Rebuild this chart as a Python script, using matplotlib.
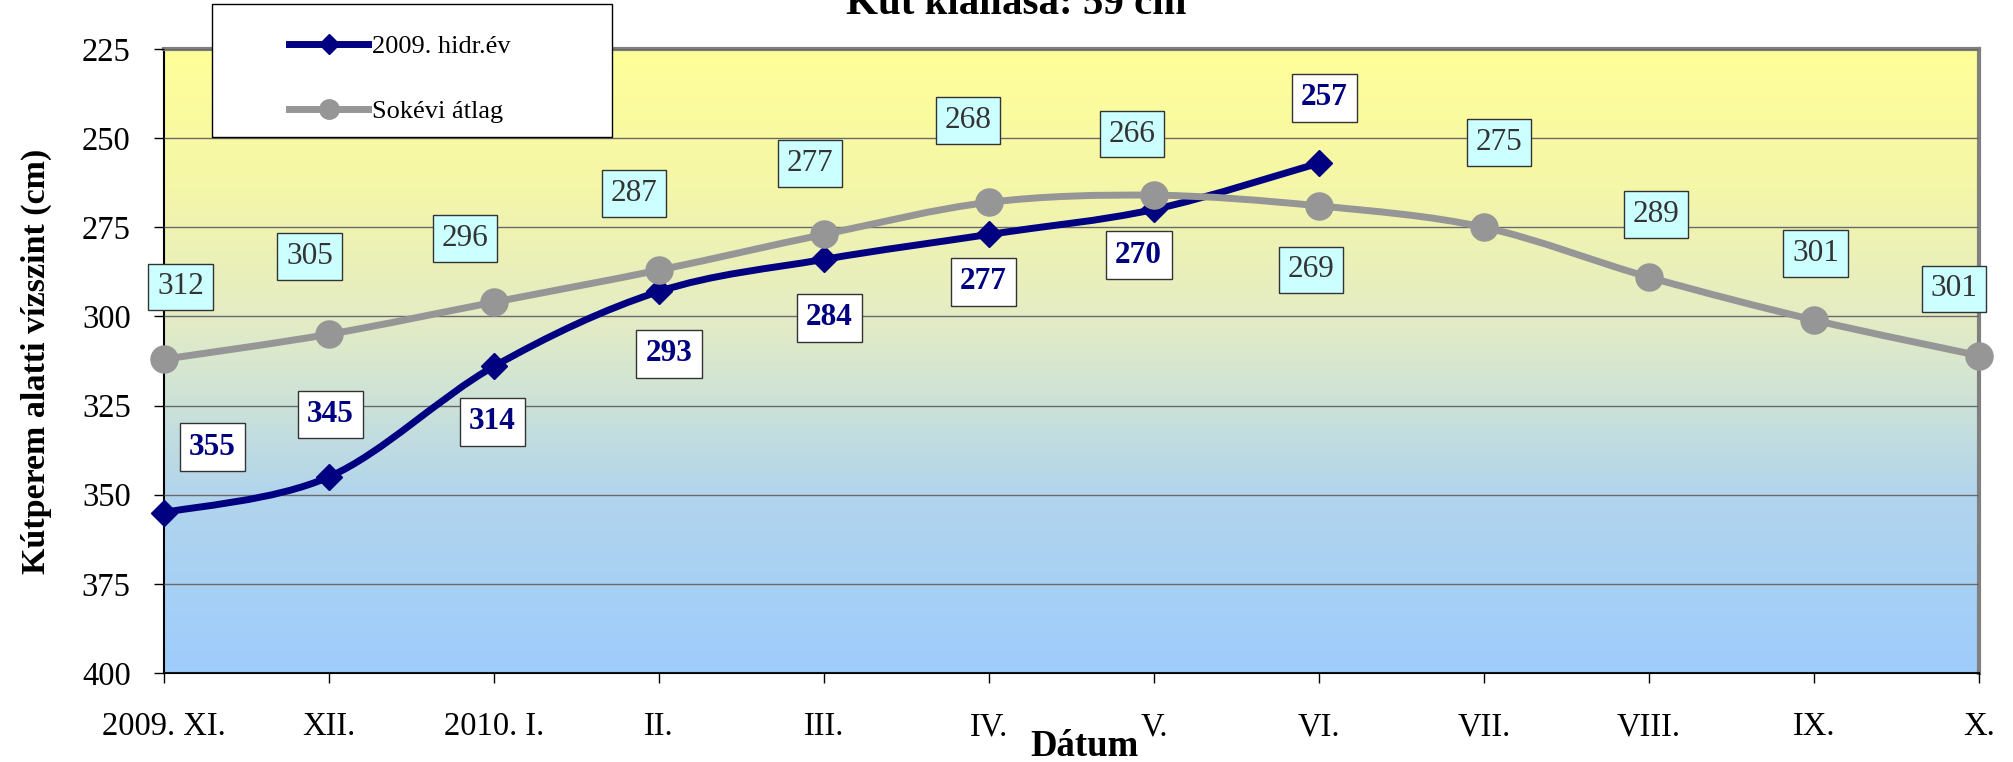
import numpy as np
import matplotlib
matplotlib.use("Agg")
import matplotlib.pyplot as plt
from matplotlib.path import Path
from matplotlib.patches import PathPatch, Rectangle
from matplotlib.lines import Line2D
from matplotlib.colors import LinearSegmentedColormap

plt.rcParams['font.family'] = ['Liberation Serif', 'DejaVu Serif']

# Data
months = ["2009. XI.", "XII.", "2010. I.", "II.", "III.", "IV.", "V.",
          "VI.", "VII.", "VIII.", "IX.", "X."]
hidr_2009 = [355, 345, 314, 293, 284, 277, 270, 257]
sokevi = [312, 305, 296, 287, 277, 268, 266, 269, 275, 289, 301, 311]
sokevi_labels = ["312", "305", "296", "287", "277", "268", "266", "269",
                 "275", "289", "301", "301"]
hidr_labels = [str(v) for v in hidr_2009]

# label offsets (points)
sok_off = [(12, 52), (-14, 56), (-21, 46), (-18, 55), (-10, 51), (-15, 59),
           (-16, 44), (-6, -46), (11, 61), (5, 45), (1, 48), (-18, 48)]
hidr_off = [(35, 47), (1, 45), (-1, -40), (7, -45), (4, -42), (-4, -34),
            (-11, -33), (4, 47)]

blue = '#000080'
grey = '#969696'


def smooth_path(xs, ys):
    # Catmull-Rom style Bezier through the points (like Excel smoothed lines)
    pts = np.column_stack([xs, ys]).astype(float)
    n = len(pts)
    verts = [pts[0]]
    codes = [Path.MOVETO]
    for i in range(n - 1):
        p0 = pts[i - 1] if i > 0 else pts[i]
        p1 = pts[i]
        p2 = pts[i + 1]
        p3 = pts[i + 2] if i + 2 < n else pts[i + 1]
        c1 = p1 + (p2 - p0) / 6.0
        c2 = p2 - (p3 - p1) / 6.0
        verts += [c1, c2, p2]
        codes += [Path.CURVE4] * 3
    return Path(verts, codes)


fig = plt.figure(figsize=(20.13, 7.62), dpi=100)
ax = fig.add_axes([164 / 2013, 1 - 673 / 762, (1979 - 164) / 2013, (673 - 49) / 762])

# gradient background
cmap = LinearSegmentedColormap.from_list('bg', [
    (0.0, '#FFFF99'), (0.2, '#F6F7A6'), (0.43, '#E4ECC4'),
    (0.57, '#CCE2D8'), (0.71, '#B2D5EC'), (1.0, '#9ECCFC')])
grad = np.linspace(0, 1, 256).reshape(-1, 1)
ax.imshow(grad, cmap=cmap, aspect='auto', extent=(0, 11, 400, 225),
          origin='upper', zorder=0)

ax.set_xlim(0, 11)
ax.set_ylim(400, 225)
ax.set_yticks(np.arange(225, 401, 25))
ax.set_xticks(range(len(months)))
ax.set_xticklabels(months)
ax.yaxis.grid(True, color='#6a6a6a', lw=1)
ax.set_axisbelow(False)
for g in ax.get_ygridlines():
    g.set_zorder(1)

ax.tick_params(axis='both', direction='out', length=7, width=1, labelsize=23.5)
ax.tick_params(axis='y', pad=17)
ax.tick_params(axis='x', pad=21)
ax.spines['top'].set_color('#808080')
ax.spines['top'].set_linewidth(3)
ax.spines['right'].set_color('#808080')
ax.spines['right'].set_linewidth(3)
ax.spines['left'].set_linewidth(1.5)
ax.spines['bottom'].set_linewidth(1.5)

x_h = np.arange(len(hidr_2009))
x_s = np.arange(len(sokevi))

ax.add_patch(PathPatch(smooth_path(x_h, hidr_2009), fill=False, edgecolor=blue,
                       lw=5, capstyle='round', joinstyle='round', zorder=3))
ax.plot(x_h, hidr_2009, linestyle='none', marker='D', ms=13.5, color=blue,
        zorder=4, clip_on=False)
ax.add_patch(PathPatch(smooth_path(x_s, sokevi), fill=False, edgecolor=grey,
                       lw=5, capstyle='round', joinstyle='round', zorder=5))
ax.plot(x_s, sokevi, linestyle='none', marker='o', ms=19.5, color=grey,
        zorder=6, clip_on=False)

for i, (v, lab) in enumerate(zip(sokevi, sokevi_labels)):
    ax.annotate(lab, xy=(i, v), xytext=sok_off[i], textcoords='offset points',
                ha='center', va='center', fontsize=22.5, color='#333333',
                bbox=dict(boxstyle='square,pad=0.28', fc='#CCFFFF', ec='#333333', lw=1),
                zorder=8, annotation_clip=False)
for i, (v, lab) in enumerate(zip(hidr_2009, hidr_labels)):
    ax.annotate(lab, xy=(i, v), xytext=hidr_off[i], textcoords='offset points',
                ha='center', va='center', fontsize=22.5, color=blue, fontweight='bold',
                bbox=dict(boxstyle='square,pad=0.3', fc='white', ec='#333333', lw=1),
                zorder=8, annotation_clip=False)

ax.set_ylabel('Kútperem alatti vízszint (cm)', fontsize=24.5, fontweight='bold')
ax.yaxis.set_label_coords(-0.0725 + 20 / 1815, 0.5)
fig.text(1084 / 2013, 1 - 756 / 762, 'Dátum', ha='center', va='baseline',
         fontsize=26.5, fontweight='bold')
fig.text(1016 / 2013, 1 - 14 / 762, 'Kút kiállása: 59 cm', ha='center',
         va='baseline', fontsize=29.5, fontweight='bold')

# legend with its own white frame
frame = Rectangle((212 / 2013, 1 - 137 / 762), 400 / 2013, 133 / 762,
                  transform=fig.transFigure, fc='white', ec='black', lw=1, zorder=10)
fig.add_artist(frame)
handles = [Line2D([], [], color=blue, lw=5, marker='D', ms=10),
           Line2D([], [], color=grey, lw=5, marker='o', ms=14)]
leg = fig.legend(handles, ['2009. hidr.év', 'Sokévi átlag'], loc='upper left',
                 bbox_to_anchor=(289 / 2013, 1 - 35 / 762), frameon=False,
                 borderpad=0, borderaxespad=0, fontsize=19, handlelength=3.0,
                 handletextpad=0.15, labelspacing=1.55)
leg.set_zorder(11)

fig.savefig('out.png', dpi=100)
